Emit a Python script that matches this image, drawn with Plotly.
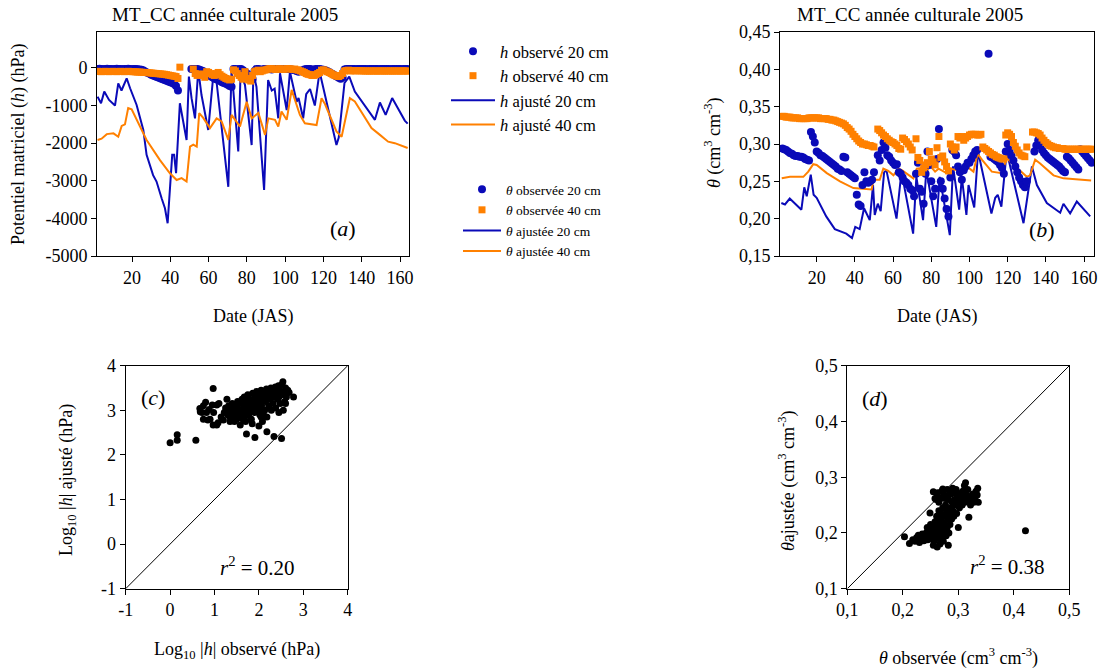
import plotly.graph_objects as go

FONT = '"Liberation Serif", "Times New Roman", Times, serif'
BLUE = "#0a0ab8"
ORANGE = "#ff8000"
W, H = 1102, 668

DAYS = list(range(2, 165))

# ---------------- panel (a): matric potential h (hPa) ----------------
A_OBS20 = ([-30, -25, -30, -35, -30, -25, -30, -30, -35, -30, -25, -30, -30, -35, -30, -30, -25, -30, -35, -30, -30, -35, -40, -50, -70]
           + [-100, -130, -150, -180, -200, -220, -240, -260, -280, -300, -320, -340, -360, -380, -400, -430, -480, -600]
           + [None] * 6
           + [-30, -30, -30, -30, -40, -60, -80, -120]
           + [-150, -180, -220, -250, -280, -300, -320, -350, -380, -400, -420, -450, -480, -500]
           + [-30, -30, -40, -30, -30, -60, -100, -150]
           + [-200, -250, -300, -80]
           + [-30, -30, -40, -50, -30, -30, -30, -30, -40, -30, -30, -30, -30, -30, -30, -30, -30, -30, -40, -50, -60, -80, -100, -80, -60, -40, -30, -30, -30, -40, -50, -30, -30, -30, -40, -50]
           + [-60, -80, -110, -140, -170, -200, -230, -260, -290, -250]
           + [-40, -30, -30, -30, -30, -30, -35, -30, -30, -30, -30, -30, -35, -30, -30, -30, -30, -30, -35, -30, -30, -30, -30, -30, -35, -30, -30, -30, -30, -30, -35, -30, -30, -30])

A_OBS40 = ([-90, -95, -100, -95, -90, -95, -100, -95, -90, -95, -100, -95, -90, -95, -100, -95, -90, -95, -100, -100, -105, -110, -110, -115, -120]
           + [-120, -125, -130, -135, -140, -145, -150, -155, -160, -165, -170, -180, -190, -200, -210, -220, -230, -280, 20]
           + [None] * 6
           + [-30, -150, -200, -180, -160, -200, -250]
           + [-100, -120, -150, -180, -200, -150, -120, -180, -220, -250, -280, -300, -320, -300]
           + [-50, -80, -150, -200, -250, -300, -100, -280, -320, -350]
           + [-200, -100, -80, -60, -100, -80, -60, -50]
           + [-30, -20, -20, -30, -40, -30, -20, -30, -40, -30, -20, -20, -30, -40, -30, -50, -60, -80]
           + [-100, -120, -150, -170, -180, -200, -200, -180, -150, -120]
           + [-60, -50, -80, -100, -120, -150, -180, -200, -220, -230, -200, -150]
           + [-80, -70, -60, -80, -70, -75, -80, -70, -75, -80, -80, -80, -80, -85, -80, -80, -80, -85, -80, -80, -80, -85, -80, -80, -80, -85, -80, -80, -80, -85, -80, -80, -80, -85])

A_FIT20_X = [2, 3.8, 5.5, 8, 11.1, 12.8, 14.5, 17.2, 19, 22.4, 25.9, 27.6, 31, 32.8, 35.5, 37.2, 38.6, 40.3, 41, 42,
             43, 45, 48.5, 49.7, 51.1, 52.9, 54.6, 56.3, 59.8, 62.4, 64, 70.3, 72, 75.5, 76.7, 79, 82.5, 83.4, 85, 89,
             91.1, 93, 94.5, 96.4, 97.3, 100.8, 102.5, 106, 107, 109.4, 111, 113, 115.5, 118, 126.8, 128, 131, 133.5, 136.4, 146.9,
             149.5, 152.5, 155.9, 162.5, 164]
A_FIT20_Y = [-763, -940, -630, -850, -1000, -410, -600, -275, -540, -985, -1650, -2310, -2850, -3020, -3470, -3730, -4130, -3020, -2310, -2310,
             -2800, -940, -1915, -230, -805, -1340, -50, -720, -1650, -230, -300, -3160, -20, -2220, -140, -450, -2050, -140, -500, -3245,
             -320, -600, -550, -1340, -140, -1120, -100, -900, -800, -1340, -700, -560, -1000, -100, -2050, -1850, -400, -230, -630, -1380,
             -920, -1250, -800, -1400, -1480]

A_FIT40_X = [2, 4.1, 6.8, 10.3, 12.8, 14.6, 16.3, 18, 19.8, 22.4, 27.6, 34.6, 39.8, 43.3, 45.9, 48.5, 50.3, 52, 53.8, 55.1,
             57.2, 60.7, 64.2, 66.8, 70.3, 72, 76.4, 79.9, 82.5, 86, 89.5, 91.2, 94.7, 96.4, 98.1, 100.8, 103.4, 107.7, 110.3, 116.4,
             119, 120.8, 126.8, 129.5, 133.8, 136.4, 145.1, 149.5, 153.8, 157.3, 162.5, 164]
A_FIT40_Y = [-1915, -1880, -1760, -1740, -1830, -1540, -1500, -1070, -1100, -1380, -1915, -2450, -2800, -2980, -2930, -3020, -2090, -2040, -2090, -1200,
             -1330, -1600, -1340, -1420, -1915, -1250, -1560, -900, -1340, -1200, -1780, -1340, -1380, -1560, -1160, -1380, -585, -1250, -1470, -1520,
             -805, -960, -1690, -1830, -805, -890, -1600, -1780, -1960, -2000, -2090, -2130]

# ---------------- panel (b): water content theta ----------------
B_OBS20 = ([0.294, 0.293, 0.292, 0.290, 0.288, 0.287, 0.285, 0.284, 0.284, 0.283, 0.283, 0.282]
           + [0.280, 0.279, 0.278]
           + [0.316, 0.310, 0.302]
           + [0.290, 0.288, 0.285, 0.284, 0.282, 0.280, 0.278, 0.276, 0.274, 0.272, 0.270]
           + [0.267, 0.266, 0.264]
           + [0.283, 0.282]
           + [0.262, 0.260, 0.258, 0.256, 0.254]
           + [0.232, 0.219, 0.217]
           + [0.245, 0.262, 0.250, 0.248, 0.250, 0.252, 0.262]
           + [None]
           + [0.285, 0.278, 0.292, 0.302, 0.295, 0.285, 0.283, 0.278, 0.275]
           + [0.272, 0.273, 0.262, 0.260, 0.255, 0.250, 0.248, 0.245, 0.240, 0.238, 0.230]
           + [0.260, 0.275, 0.240, 0.236, 0.220]
           + [0.260, 0.290, 0.272, 0.250, 0.230, 0.240]
           + [0.280, 0.320, 0.250, 0.240, 0.227, 0.213, 0.203, 0.255]
           + [0.292, 0.290, 0.285, 0.270, 0.262, 0.252, 0.265, 0.270, 0.275, 0.275]
           + [0.280, 0.285, 0.290, 0.292]
           + [None] * 5
           + [0.421]
           + [0.283, 0.282, 0.280, 0.278, 0.276, 0.272, 0.268, 0.260]
           + [0.290, 0.300, 0.292, 0.285]
           + [0.278, 0.270, 0.262, 0.255, 0.250, 0.245, 0.242, 0.250]
           + [None] * 3
           + [0.290, 0.298, 0.305, 0.298, 0.292]
           + [0.288, 0.285, 0.282, 0.280, 0.278, 0.276, 0.274, 0.272, 0.270, 0.267, 0.264, 0.262]
           + [0.283, 0.281, 0.278, 0.275, 0.272, 0.269, 0.266]
           + [0.293, 0.290, 0.287, 0.284, 0.281, 0.278, 0.275])

B_OBS40 = ([0.337, 0.337, 0.336, 0.336, 0.336, 0.335, 0.335, 0.335, 0.335, 0.334, 0.334]
           + [0.334, 0.334, 0.334, 0.335, 0.335, 0.335, 0.335, 0.335, 0.335, 0.334, 0.334, 0.334, 0.334]
           + [0.333, 0.333, 0.332, 0.332, 0.331, 0.330, 0.329, 0.328]
           + [0.327, 0.325, 0.322, 0.320, 0.317, 0.313, 0.310, 0.307]
           + [0.304, 0.302, 0.300, 0.300, 0.299, 0.298, 0.298, 0.297, 0.296]
           + [None]
           + [0.320, 0.318, 0.315, 0.312, 0.310]
           + [0.307, 0.305, 0.303, 0.302, 0.300, 0.298]
           + [0.294, 0.293]
           + [0.308, 0.306, 0.303, 0.300, 0.296, 0.292]
           + [None]
           + [0.307, 0.282, 0.278]
           + [0.262, 0.268, 0.272, 0.275, 0.290, 0.280, 0.276, 0.272]
           + [0.295, 0.310, 0.282, 0.284, 0.276, 0.270]
           + [0.264, 0.300, 0.296, 0.292, 0.296, 0.310, 0.308]
           + [0.310, 0.305, 0.308, 0.310, 0.312, 0.313, 0.313, 0.313, 0.312, 0.312, 0.313]
           + [0.296, 0.294, 0.292, 0.290, 0.288, 0.286, 0.285, 0.283, 0.282, 0.281, 0.280, 0.280]
           + [0.312, 0.315, 0.313, 0.310]
           + [0.302, 0.297, 0.292, 0.288, 0.285, 0.284, 0.283, 0.296]
           + [None, None]
           + [0.316, 0.316, 0.315, 0.314, 0.312, 0.308, 0.305]
           + [0.302, 0.300, 0.298, 0.297, 0.296, 0.295, 0.295, 0.294, 0.294, 0.294, 0.293, 0.293, 0.293,
              0.293, 0.293, 0.293, 0.293, 0.293, 0.293, 0.293, 0.293, 0.293, 0.293, 0.293, 0.293])

B_FIT20_X = [1.5, 3.4, 5.9, 8, 11.3, 12, 13.5, 14.8, 16.9, 18.4, 20, 25, 29.5, 35.5, 38.5, 40.2, 42.5, 44.8, 47.8, 49.5,
             50.4, 52, 53.5, 55.3, 56.5, 61.8, 64.4, 70.5, 72.2, 75.7, 77.4, 82.6, 84.4, 89.7, 91.4, 94.6, 96, 98.4, 99.5, 102.5,
             104.5, 111.5, 113.5, 114.8, 116.7, 118.5, 119.5, 128.3, 132.7, 135.3, 140.5, 147.5, 149.2, 152.7, 156.2, 163.2]
B_FIT20_Y = [0.221, 0.219, 0.227, 0.222, 0.215, 0.212, 0.242, 0.230, 0.259, 0.232, 0.228, 0.203, 0.186, 0.180, 0.174, 0.189, 0.186, 0.214, 0.198, 0.245,
             0.205, 0.220, 0.210, 0.262, 0.265, 0.200, 0.263, 0.180, 0.256, 0.198, 0.265, 0.189, 0.256, 0.178, 0.270, 0.212, 0.255, 0.205, 0.245, 0.215,
             0.290, 0.207, 0.228, 0.232, 0.216, 0.270, 0.290, 0.194, 0.270, 0.245, 0.221, 0.208, 0.220, 0.207, 0.223, 0.203]

B_FIT40_X = [1.7, 6, 13, 15.6, 18.2, 20, 25.3, 32.2, 39.2, 48.8, 49.7, 53, 54.9, 57.5, 60.2, 62.8, 64.6, 70.6, 72.4, 75.8,
             78.4, 79.3, 82, 83.8, 88.1, 89.8, 93.3, 95.9, 98.6, 102.1, 104.2, 106.5, 111.7, 116.9, 119.5, 122.1, 130, 131.7, 134.4, 137,
             144, 149.2, 154.4, 163.7]
B_FIT40_Y = [0.254, 0.256, 0.256, 0.263, 0.273, 0.272, 0.261, 0.250, 0.241, 0.239, 0.252, 0.252, 0.267, 0.264, 0.258, 0.267, 0.265, 0.254, 0.267, 0.268,
             0.266, 0.271, 0.263, 0.267, 0.261, 0.267, 0.265, 0.261, 0.270, 0.263, 0.287, 0.279, 0.263, 0.261, 0.281, 0.275, 0.256, 0.258, 0.279, 0.274,
             0.258, 0.254, 0.253, 0.251]

# ---------------- panel (c): log10|h| observed vs fitted ----------------
C_POINTS = [(0.0, 2.27), (0.16, 2.45), (0.16, 2.33), (0.58, 2.33), (0.97, 3.49),
            (0.67, 3.04), (0.68, 2.97), (0.72, 2.95), (0.75, 3.1), (0.8, 3.18), (0.82, 2.95), (0.75, 2.8), (0.85, 2.78),
            (0.9, 2.8), (0.95, 3.12), (0.98, 2.95), (0.97, 2.67), (1.05, 2.67), (1.08, 2.72), (1.1, 3.15), (1.15, 2.85),
            (1.2, 2.78), (1.05, 3.12), (0.88, 3.02),
            (1.22, 2.95), (1.25, 3.05), (1.28, 3.25), (1.3, 2.9), (1.32, 3.1), (1.35, 2.75), (1.38, 3.0), (1.4, 3.15),
            (1.42, 2.85), (1.45, 3.05), (1.48, 2.95), (1.5, 3.1), (1.52, 3.2), (1.55, 2.9), (1.57, 3.0), (1.58, 2.67),
            (1.6, 3.15), (1.62, 3.25), (1.63, 2.95), (1.65, 3.05), (1.67, 3.3), (1.68, 2.85), (1.7, 3.1), (1.72, 2.47),
            (1.72, 3.2), (1.74, 3.0), (1.75, 3.35), (1.77, 2.9), (1.78, 3.15), (1.8, 3.25), (1.81, 3.05), (1.83, 2.8),
            (1.85, 3.2), (1.86, 3.38), (1.88, 3.1), (1.9, 2.95), (1.91, 2.39), (1.92, 3.3), (1.94, 3.15), (1.95, 3.42),
            (1.97, 3.0), (1.98, 3.25), (2.0, 3.35), (2.02, 2.9), (2.03, 3.2), (2.05, 3.45), (2.06, 3.1), (2.08, 2.75),
            (2.1, 3.3), (2.12, 3.4), (2.13, 3.0), (2.15, 3.2), (2.17, 3.48), (2.18, 2.52), (2.18, 2.85), (2.2, 3.35),
            (2.22, 3.1), (2.24, 3.42), (2.25, 3.25), (2.27, 3.5), (2.28, 3.0), (2.3, 3.38), (2.32, 3.15), (2.33, 3.45),
            (2.34, 2.41), (2.35, 3.3), (2.37, 3.52), (2.38, 3.05), (2.4, 3.4), (2.42, 3.25), (2.44, 3.55), (2.45, 2.95),
            (2.47, 3.45), (2.48, 3.15), (2.5, 3.35), (2.51, 2.37), (2.52, 3.58), (2.54, 3.64), (2.55, 3.0), (2.56, 3.4),
            (2.58, 3.2), (2.6, 3.5), (2.62, 3.3), (2.65, 3.45), (2.68, 3.4), (2.78, 3.3), (2.6, 3.15), (1.55, 3.18),
            (1.65, 2.78), (1.35, 2.85), (1.45, 2.75), (1.9, 3.08), (2.0, 3.05), (2.1, 2.95), (2.0, 2.65), (2.05, 2.85),
            (1.85, 2.7), (1.7, 2.75), (1.6, 2.85), (1.5, 2.8), (1.4, 2.95), (1.3, 3.02), (1.75, 3.05), (1.95, 3.2),
            (2.15, 3.28), (2.35, 3.4), (2.45, 3.3), (2.25, 3.35), (2.05, 3.3), (1.85, 3.0), (1.65, 2.95), (2.4, 3.48)]

# ---------------- panel (d): theta observed vs fitted ----------------
D_POINTS = [(0.212, 0.181), (0.218, 0.188), (0.222, 0.185), (0.225, 0.192), (0.228, 0.196), (0.23, 0.183), (0.232, 0.19),
            (0.235, 0.198), (0.238, 0.186), (0.24, 0.193), (0.242, 0.2), (0.244, 0.21), (0.245, 0.188), (0.247, 0.195),
            (0.248, 0.205), (0.25, 0.215), (0.252, 0.19), (0.254, 0.2), (0.255, 0.178), (0.256, 0.185), (0.257, 0.21),
            (0.258, 0.22), (0.259, 0.195), (0.26, 0.205), (0.26, 0.26), (0.261, 0.23), (0.262, 0.175), (0.263, 0.19),
            (0.264, 0.215), (0.265, 0.24), (0.265, 0.2), (0.266, 0.225), (0.267, 0.18), (0.268, 0.262), (0.268, 0.21),
            (0.269, 0.235), (0.27, 0.195), (0.27, 0.275), (0.271, 0.22), (0.272, 0.245), (0.273, 0.185), (0.274, 0.205),
            (0.275, 0.23), (0.275, 0.268), (0.276, 0.215), (0.277, 0.25), (0.278, 0.195), (0.279, 0.24), (0.28, 0.21),
            (0.28, 0.278), (0.281, 0.225), (0.282, 0.26), (0.282, 0.178), (0.283, 0.2), (0.284, 0.235), (0.285, 0.215),
            (0.286, 0.27), (0.287, 0.245), (0.288, 0.225), (0.289, 0.255), (0.29, 0.24), (0.291, 0.272), (0.292, 0.23),
            (0.293, 0.26), (0.295, 0.25), (0.296, 0.278), (0.297, 0.235), (0.298, 0.265), (0.3, 0.255), (0.3, 0.21),
            (0.302, 0.245), (0.304, 0.27), (0.305, 0.26), (0.307, 0.25), (0.308, 0.275), (0.31, 0.262), (0.311, 0.285),
            (0.312, 0.255), (0.313, 0.29), (0.315, 0.268), (0.317, 0.278), (0.318, 0.258), (0.32, 0.265), (0.322, 0.25),
            (0.324, 0.262), (0.326, 0.27), (0.328, 0.255), (0.33, 0.262), (0.332, 0.275), (0.334, 0.268), (0.336, 0.255),
            (0.335, 0.28), (0.319, 0.228), (0.249, 0.236), (0.203, 0.193), (0.421, 0.204), (0.255, 0.274), (0.262, 0.265),
            (0.265, 0.255), (0.272, 0.279), (0.258, 0.262), (0.263, 0.272), (0.276, 0.262), (0.285, 0.27), (0.29, 0.28),
            (0.298, 0.272), (0.3, 0.268)]

DIAG_C = [-1, 4]
DIAG_D = [0.1, 0.5]

A_XTICKS = [20, 40, 60, 80, 100, 120, 140, 160]
A_YTICKS = [-5000, -4000, -3000, -2000, -1000, 0]
A_YTEXT = ["-5000", "-4000", "-3000", "-2000", "-1000", "0"]
B_YTICKS = [0.15, 0.20, 0.25, 0.30, 0.35, 0.40, 0.45]
B_YTEXT = ["0,15", "0,20", "0,25", "0,30", "0,35", "0,40", "0,45"]
C_TICKS = [-1, 0, 1, 2, 3, 4]
C_TEXT = ["-1", "0", "1", "2", "3", "4"]
D_TICKS = [0.1, 0.2, 0.3, 0.4, 0.5]
D_TEXT = ["0,1", "0,2", "0,3", "0,4", "0,5"]

fig = go.Figure()

# panel (a)
fig.add_trace(go.Scatter(x=A_FIT20_X, y=A_FIT20_Y, mode="lines", line=dict(color=BLUE, width=2),
                         name="<i>h</i> ajusté 20 cm", legend="legend", legendrank=3, xaxis="x", yaxis="y"))
fig.add_trace(go.Scatter(x=A_FIT40_X, y=A_FIT40_Y, mode="lines", line=dict(color=ORANGE, width=2),
                         name="<i>h</i> ajusté 40 cm", legend="legend", legendrank=4, xaxis="x", yaxis="y"))
fig.add_trace(go.Scatter(x=DAYS, y=A_OBS20, mode="markers", marker=dict(color=BLUE, size=8, symbol="circle"),
                         name="<i>h</i> observé 20 cm", legend="legend", legendrank=1, xaxis="x", yaxis="y"))
fig.add_trace(go.Scatter(x=DAYS, y=A_OBS40, mode="markers", marker=dict(color=ORANGE, size=7, symbol="square"),
                         name="<i>h</i> observé 40 cm", legend="legend", legendrank=2, xaxis="x", yaxis="y"))

# panel (b)
fig.add_trace(go.Scatter(x=B_FIT20_X, y=B_FIT20_Y, mode="lines", line=dict(color=BLUE, width=2),
                         name="<i>θ</i> ajustée 20 cm", legend="legend2", legendrank=3, xaxis="x2", yaxis="y2"))
fig.add_trace(go.Scatter(x=B_FIT40_X, y=B_FIT40_Y, mode="lines", line=dict(color=ORANGE, width=2),
                         name="<i>θ</i> ajustée 40 cm", legend="legend2", legendrank=4, xaxis="x2", yaxis="y2"))
fig.add_trace(go.Scatter(x=DAYS, y=B_OBS20, mode="markers", marker=dict(color=BLUE, size=8, symbol="circle"),
                         name="<i>θ</i> observée 20 cm", legend="legend2", legendrank=1, xaxis="x2", yaxis="y2"))
fig.add_trace(go.Scatter(x=DAYS, y=B_OBS40, mode="markers", marker=dict(color=ORANGE, size=7, symbol="square"),
                         name="<i>θ</i> observée 40 cm", legend="legend2", legendrank=2, xaxis="x2", yaxis="y2"))

# panel (c)
fig.add_trace(go.Scatter(x=DIAG_C, y=DIAG_C, mode="lines", line=dict(color="black", width=1),
                         showlegend=False, xaxis="x3", yaxis="y3"))
fig.add_trace(go.Scatter(x=[p[0] for p in C_POINTS], y=[p[1] for p in C_POINTS], mode="markers",
                         marker=dict(color="black", size=7), showlegend=False, xaxis="x3", yaxis="y3"))

# panel (d)
fig.add_trace(go.Scatter(x=DIAG_D, y=DIAG_D, mode="lines", line=dict(color="black", width=1),
                         showlegend=False, xaxis="x4", yaxis="y4"))
fig.add_trace(go.Scatter(x=[p[0] for p in D_POINTS], y=[p[1] for p in D_POINTS], mode="markers",
                         marker=dict(color="black", size=7), showlegend=False, xaxis="x4", yaxis="y4"))


def axis(domain, rng, tickvals, ticktext, anchor):
    return dict(domain=domain, range=rng, tickvals=tickvals, ticktext=ticktext, anchor=anchor,
                showline=True, linecolor="black", linewidth=1, mirror=True, ticks="outside", ticklen=5,
                tickcolor="black", showgrid=False, zeroline=False, automargin=False,
                tickfont=dict(family=FONT, size=18, color="black"))


def px(v):
    return v / W


def py(v):
    return 1 - v / H


fig.update_layout(
    width=W, height=H, autosize=False,
    margin=dict(l=0, r=0, t=0, b=0, pad=0, autoexpand=False),
    paper_bgcolor="white", plot_bgcolor="white",
    font=dict(family=FONT, color="black"),
    xaxis=axis([px(97), px(409)], [1.7, 164.7], A_XTICKS, [str(v) for v in A_XTICKS], "y"),
    yaxis=axis([py(256), py(32)], [-5000, 955], A_YTICKS, A_YTEXT, "x"),
    xaxis2=axis([px(780), px(1094)], [0.8, 165.2], A_XTICKS, [str(v) for v in A_XTICKS], "y2"),
    yaxis2=axis([py(256), py(32)], [0.15, 0.45], B_YTICKS, B_YTEXT, "x2"),
    xaxis3=axis([px(125.7), px(347.7)], [-1, 4], C_TICKS, C_TEXT, "y3"),
    yaxis3=axis([py(588.7), py(365.7)], [-1, 4], C_TICKS, C_TEXT, "x3"),
    xaxis4=axis([px(847.3), px(1069.3)], [0.1, 0.5], D_TICKS, D_TEXT, "y4"),
    yaxis4=axis([py(588.7), py(365.7)], [0.1, 0.5], D_TICKS, D_TEXT, "x4"),
    legend=dict(x=px(446), y=py(34), xanchor="left", yanchor="top", bgcolor="rgba(0,0,0,0)",
                font=dict(family=FONT, size=16.5, color="black"), itemwidth=44, traceorder="normal"),
    legend2=dict(x=px(458), y=py(174), xanchor="left", yanchor="top", bgcolor="rgba(0,0,0,0)",
                 font=dict(family=FONT, size=13.5, color="black"), itemwidth=38, traceorder="normal"),
)

ann = []


def text(x, y, s, size, angle=0):
    ann.append(dict(x=px(x), y=py(y), xref="paper", yref="paper", text=s, showarrow=False,
                    xanchor="center", yanchor="middle", textangle=angle,
                    font=dict(family=FONT, size=size, color="black")))


text(225, 14, "MT_CC année culturale 2005", 19)
text(910, 14, "MT_CC année culturale 2005", 19)
text(18, 145, "Potentiel matriciel (<i>h</i>) (hPa)", 18, -90)
text(253, 316, "Date (JAS)", 18)
text(713, 143, "<i>θ</i> (cm<sup>3</sup> cm<sup>-3</sup>)", 18, -90)
text(937, 316, "Date (JAS)", 18)
text(67, 480, "Log<sub>10</sub> |<i>h</i>| ajusté (hPa)", 18, -90)
text(237, 650, "Log<sub>10</sub> |<i>h</i>| observé (hPa)", 18)
text(787, 481, "<i>θ</i>ajustée (cm<sup>3</sup> cm<sup>-3</sup>)", 18, -90)
text(958, 657, "<i>θ</i> observée (cm<sup>3</sup> cm<sup>-3</sup>)", 18)
text(343, 228, "(<i>a</i>)", 22)
text(1042, 229, "(<i>b</i>)", 22)
text(153, 397, "(<i>c</i>)", 22)
text(875, 398, "(<i>d</i>)", 22)
text(257, 566, "<i>r</i><sup>2</sup> = 0.20", 21)
text(1007, 565, "<i>r</i><sup>2</sup> = 0.38", 21)
fig.update_layout(annotations=ann)

POST = ("document.documentElement.style.margin='0';document.documentElement.style.overflow='hidden';"
        "document.body.style.margin='0';document.body.style.overflow='hidden';"
        "var g=document.getElementById('{plot_id}');g.style.position='fixed';g.style.left='0px';g.style.top='0px';")
fig.write_html("out.html", post_script=POST, config={"displayModeBar": False})
